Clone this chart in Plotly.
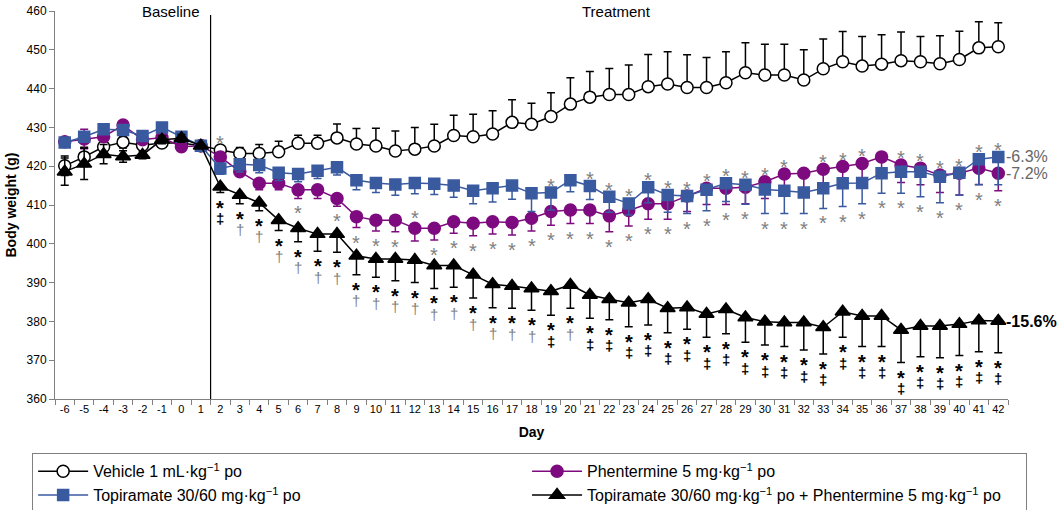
import plotly.graph_objects as go

# ---------------- data ----------------
days = [-6, -5, -4, -3, -2, -1, 0, 1,
        2, 3, 4, 5, 6, 7, 8, 9, 10, 11, 12, 13, 14, 15, 16, 17, 18,
        19, 20, 21, 22, 23, 24, 25, 26, 27, 28, 29, 30, 31, 32, 33, 34,
        35, 36, 37, 38, 39, 40, 41, 42]

vehicle = [420.1, 422.4, 425.0, 426.2, 425.4, 426.0, 426.0, 425.3,
           424.2, 423.3, 423.3, 423.7, 425.9, 425.9, 427.3,
           425.7, 425.2, 423.9, 424.4, 425.2, 427.9, 427.6, 428.3, 431.3, 430.8,
           432.8, 436.0, 437.8, 438.5, 438.5, 440.5, 441.2, 440.3,
           440.3, 441.5, 444.1, 443.5, 443.5, 442.2, 445.1, 446.9, 445.8, 446.3,
           447.2, 446.9, 446.4, 447.5, 450.5, 450.8]
vehicle_err_plus = [2.5, 2.5, 2.0, 1.5, 1.0, 1.0, 1.0, 0.5,
                    0.5, 1.5, 2.3, 2.7, 2.1, 2.1, 3.6,
                    4.0, 4.6, 5.2, 5.6, 5.6, 5.2, 5.8, 6.0, 5.8, 5.4,
                    6.1, 6.8, 6.6, 6.7, 7.6, 8.3, 8.3, 8.4,
                    7.7, 8.0, 7.7, 7.9, 7.9, 7.8, 7.7, 7.8, 7.6, 7.6,
                    7.4, 6.5, 7.2, 7.3, 6.7, 6.2]
vehicle_err_minus = [2.5, 2.5, 2.0, 1.5, 1.0, 1.0, 1.0, 0.5] + [0] * 41

phentermine = [426.3, 427.0, 427.6, 430.6, 426.8, 427.4, 425.0, 425.3,
               422.4, 418.6, 415.6, 415.6, 413.9, 413.9, 411.7,
               407.0, 406.1, 406.1, 404.0, 404.0, 405.7, 405.3, 405.7, 405.5, 406.6,
               408.3, 408.7, 408.7, 407.2, 408.6, 410.3, 410.3, 412.3,
               414.3, 414.3, 414.6, 416.0, 418.0, 418.2, 419.2, 419.9, 420.7, 422.4,
               420.3, 419.5, 417.7, 418.2, 419.5, 418.2]
phentermine_err_minus = [1.0, 2.5, 1.0, 1.0, 1.0, 1.0, 1.0, 0.5,
                         1.0, 1.2, 1.7, 1.7, 2.2, 2.2, 2.0,
                         2.8, 2.8, 3.0, 3.3, 3.0, 3.0, 3.2, 3.2, 3.2, 3.3,
                         3.5, 3.5, 3.5, 4.1, 4.0, 4.0, 4.0, 4.0,
                         4.2, 4.2, 4.3, 4.3, 4.4, 4.4, 4.5, 4.5, 4.5, 4.5,
                         4.5, 4.3, 4.5, 5.6, 4.2, 4.5]
phentermine_err_plus = [1.0, 2.5, 1.0, 1.0, 1.0, 1.0, 1.0, 0.5] + [0] * 41

topiramate = [426.1, 427.6, 429.5, 429.3, 427.8, 430.0, 427.6, 425.3,
              419.4, 420.5, 420.3, 418.3, 418.0, 418.8, 419.7,
              416.4, 415.7, 415.3, 415.7, 415.5, 415.0, 413.7, 414.3, 415.0, 413.0,
              413.2, 416.4, 414.9, 412.1, 410.4, 414.6, 412.6, 412.3,
              413.9, 415.6, 415.2, 414.0, 413.7, 413.2, 414.3, 415.6, 415.7, 418.2,
              418.6, 418.6, 417.3, 418.3, 421.8, 422.4]
topiramate_err_minus = [1.0, 1.0, 1.0, 1.0, 1.0, 1.0, 1.0, 0.5,
                        1.5, 2.0, 2.0, 2.0, 2.0, 2.0, 2.0,
                        2.5, 2.5, 2.8, 2.8, 2.8, 3.0, 3.4, 3.5, 3.5, 4.7,
                        4.5, 3.0, 3.5, 4.0, 3.0, 4.0, 4.5, 4.5,
                        5.4, 4.7, 5.0, 6.2, 5.9, 5.4, 5.2, 6.0, 5.4, 5.2,
                        5.6, 6.5, 6.7, 5.7, 6.6, 7.2]
topiramate_err_plus = [1.0, 1.0, 1.0, 1.0, 1.0, 1.0, 1.0, 0.5] + [0] * 41

combo = [418.6, 420.6, 423.1, 422.5, 422.9, 426.8, 427.2, 425.3,
         414.7, 412.6, 410.6, 406.1, 404.0, 402.5, 402.5,
         396.9, 396.1, 396.1, 395.8, 394.4, 394.4, 392.0, 389.6, 389.1, 388.5,
         387.8, 389.4, 386.8, 385.7, 384.8, 385.7, 383.4, 383.6,
         381.9, 383.1, 381.0, 379.9, 379.7, 379.7, 378.5, 382.5, 381.4, 381.4,
         377.8, 378.8, 378.8, 379.3, 380.2, 380.1]
combo_err_minus = [3.5, 4.0, 2.5, 1.5, 1.0, 1.0, 1.0, 0.5,
                   1.5, 2.3, 2.1, 2.7, 3.5, 4.4, 4.7,
                   4.9, 4.7, 5.6, 5.8, 5.9, 5.6, 6.0, 6.1, 5.7, 5.6,
                   6.2, 6.0, 6.0, 5.3, 6.2, 6.6, 6.3, 5.6,
                   6.0, 6.3, 6.4, 6.0, 6.2, 7.1, 6.9, 6.6, 7.9, 7.9,
                   8.4, 7.9, 8.2, 8.1, 8.0, 8.2]
combo_err_plus = [3.5, 4.0, 2.5, 1.5, 1.0, 1.0, 1.0, 0.5] + [0] * 41

# significance marks (treatment days 2..42)
combo_second_marks = list("‡††††††††††††††††‡†‡‡‡‡‡‡‡‡‡‡‡‡‡‡‡‡‡‡‡‡‡‡")
gray_below_days = [6, 8, 9, 10, 11] + list(range(13, 43))
gray_above_days = [19, 21, 22, 23, 24, 25, 26, 27, 28, 29, 30, 31, 33, 34, 35,
                   37, 38, 39, 40, 41, 42]
gray_above_phentermine_days = [12]
gray_above_vehicle_days = [2]

final_labels = {"topiramate": "-6.3%", "phentermine": "-7.2%", "combo": "-15.6%"}

names = ["Vehicle 1 mL·kg<sup>−1</sup> po",
         "Phentermine 5 mg·kg<sup>−1</sup> po",
         "Topiramate 30/60 mg·kg<sup>−1</sup> po",
         "Topiramate 30/60 mg·kg<sup>−1</sup> po + Phentermine 5 mg·kg<sup>−1</sup> po"]

# ---------------- figure ----------------
FONT = "Arial, Liberation Sans, sans-serif"
PURPLE = "#7d0b7f"
BLUE = "#3a5aa0"
GRAY = "#808080"
cats = [str(d) for d in days]
ix = {d: i for i, d in enumerate(days)}

fig = go.Figure()

def add(y, plus, minus, name, color, symbol, fill, size, lc):
    fig.add_trace(go.Scatter(
        x=cats, y=y, name=name, mode="lines+markers",
        line=dict(color=lc, width=1.5),
        marker=dict(symbol=symbol, size=size, color=fill,
                    line=dict(color=color, width=1.5)),
        error_y=dict(type="data", array=plus, arrayminus=minus, symmetric=False,
                     color=color, thickness=1.5, width=4),
    ))

add(vehicle, vehicle_err_plus, vehicle_err_minus, names[0], "black", "circle", "white", 12, "black")
add(phentermine, phentermine_err_plus, phentermine_err_minus, names[1], PURPLE, "circle", PURPLE, 12, PURPLE)
add(topiramate, topiramate_err_plus, topiramate_err_minus, names[2], BLUE, "square", BLUE, 11, BLUE)
add(combo, combo_err_plus, combo_err_minus, names[3], "black", "triangle-up", "black", 13, "black")

ann = []
star_font_black = dict(family=FONT, size=20, color="black")
star_font_gray = dict(family=FONT, size=20, color=GRAY)

# annotations on a category axis are placed by category index
for k, d in enumerate(days[8:]):
    i = ix[d]
    yend = combo[i] - combo_err_minus[i]
    ann.append(dict(x=i, y=yend, text="<b>*</b>", showarrow=False,
                    yanchor="middle", yshift=-15, font=star_font_black))
    m = combo_second_marks[k]
    ann.append(dict(x=i, y=yend, text="<b>%s</b>" % m if m == "‡" else m,
                    showarrow=False, yanchor="middle", yshift=-26,
                    font=dict(family=FONT, size=15, color="black" if m == "‡" else GRAY)))

for d in gray_below_days:
    i = ix[d]
    ylow = min(phentermine[i] - phentermine_err_minus[i], topiramate[i] - topiramate_err_minus[i])
    ann.append(dict(x=i, y=ylow, text="*", showarrow=False,
                    yanchor="middle", yshift=-15, font=star_font_gray))
for d in gray_above_days:
    i = ix[d]
    yup = max(phentermine[i], topiramate[i])
    ann.append(dict(x=i, y=yup, text="*", showarrow=False,
                    yanchor="middle", yshift=7, font=star_font_gray))
for d in gray_above_phentermine_days:
    i = ix[d]
    ann.append(dict(x=i, y=phentermine[i], text="*", showarrow=False,
                    yanchor="middle", yshift=10, font=star_font_gray))
for d in gray_above_vehicle_days:
    i = ix[d]
    ann.append(dict(x=i, y=vehicle[i], text="*", showarrow=False,
                    yanchor="middle", yshift=7, font=star_font_gray))

last = len(days) - 1
for key, series, col, bold in [("topiramate", topiramate, "#666666", False),
                               ("phentermine", phentermine, "#666666", False),
                               ("combo", combo, "black", True)]:
    txt = final_labels[key]
    ann.append(dict(x=last, y=series[last], text="<b>%s</b>" % txt if bold else txt,
                    showarrow=False, xanchor="left", yanchor="middle", xshift=6,
                    font=dict(family=FONT, size=16, color=col)))

ann.append(dict(x=0.089, y=1.0, xref="paper", yref="paper", text="Baseline",
                showarrow=False, yanchor="middle", yshift=0,
                font=dict(family=FONT, size=15, color="black")))
ann.append(dict(x=0.589, y=1.0, xref="paper", yref="paper", text="Treatment",
                showarrow=False, yanchor="middle", yshift=0,
                font=dict(family=FONT, size=15, color="black")))

fig.add_shape(type="line", x0=7.5, x1=7.5, y0=360, y1=459, xref="x", yref="y",
              line=dict(color="black", width=1.2))

fig.update_layout(
    width=1063, height=510,
    margin=dict(l=55, r=55, t=11, b=111, autoexpand=False),
    paper_bgcolor="white", plot_bgcolor="white",
    font=dict(family=FONT, size=12, color="black"),
    annotations=ann,
    showlegend=True,
    legend=dict(orientation="h", x=-0.024, xanchor="left", y=-0.14, yanchor="top",
                bordercolor="#7f7f7f", borderwidth=1, bgcolor="white",
                entrywidthmode="fraction", entrywidth=0.49,
                font=dict(family=FONT, size=16), itemwidth=50),
    xaxis=dict(type="category", categoryorder="array", categoryarray=cats,
               showgrid=False, zeroline=False, showline=True, linecolor="#808080",
               linewidth=1, ticks="outside", tickson="boundaries", ticklen=5,
               tickcolor="#808080", tickfont=dict(size=11), tickangle=0,
               range=[-0.5, 48.5],
               title=dict(text="<b>Day</b>", font=dict(size=14), standoff=12)),
    yaxis=dict(range=[360, 460], dtick=10, showgrid=False, zeroline=False,
               showline=True, linecolor="#808080", linewidth=1, ticks="outside",
               ticklen=5, tickcolor="#808080", tickfont=dict(size=12),
               title=dict(text="<b>Body weight (g)</b>", font=dict(size=14), standoff=6)),
)

# remove the browser's default 8px page margin so the figure fills the window
fig.write_html("out.html", config={"displayModeBar": False},
               post_script="document.body.style.margin='0';document.body.style.overflow='hidden';")
